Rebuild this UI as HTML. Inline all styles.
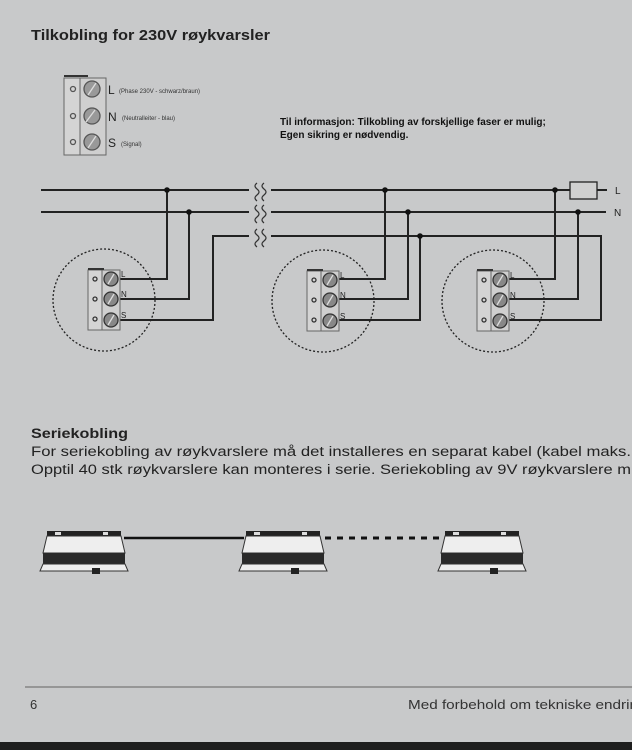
<!DOCTYPE html>
<html><head><meta charset="utf-8"><style>
html,body{margin:0;padding:0;background:#c8c9ca;}
svg{display:block;font-family:"Liberation Sans",sans-serif;}
</style></head><body>
<svg width="632" height="750" viewBox="0 0 632 750" xmlns="http://www.w3.org/2000/svg">
<rect width="632" height="750" fill="#c8c9ca"/>
<text x="31" y="40" font-size="14.5" font-weight="bold" fill="#222" textLength="239" lengthAdjust="spacingAndGlyphs">Tilkobling for 230V røykvarsler</text>

<!-- legend block -->
<g stroke="#666" fill="#d4d4d4">
<rect x="64" y="78" width="42" height="77"/>
<rect x="80" y="78" width="26" height="77" fill="#cfcfcf"/>
<line x1="64" y1="76" x2="88" y2="76" stroke="#333" stroke-width="2"/>
</g>
<g stroke="#555" stroke-width="1.3" fill="#999">
<circle cx="73" cy="89" r="2.5" fill="none"/><circle cx="73" cy="116" r="2.5" fill="none"/><circle cx="73" cy="142" r="2.5" fill="none"/>
<circle cx="92" cy="89" r="8"/><circle cx="92" cy="116" r="8"/><circle cx="92" cy="142" r="8"/>
<path d="M88 95 L96 83 M86 122 L95 110 M88 148 L96 136" stroke="#ddd"/>
</g>
<text x="108" y="94" font-size="12" fill="#222">L</text><text x="119" y="93" font-size="6" fill="#333">(Phase 230V - schwarz/braun)</text>
<text x="108" y="121" font-size="12" fill="#222">N</text><text x="122" y="120" font-size="6" fill="#333">(Neutralleiter - blau)</text>
<text x="108" y="147" font-size="12" fill="#222">S</text><text x="121" y="146" font-size="6" fill="#333">(Signal)</text>

<text x="280" y="125" font-size="10" font-weight="bold" fill="#111">Til informasjon: Tilkobling av forskjellige faser er mulig;</text>
<text x="280" y="138" font-size="10" font-weight="bold" fill="#111">Egen sikring er nødvendig.</text>

<!-- bus lines -->
<g stroke="#222" stroke-width="2" fill="none">
<line x1="41" y1="190" x2="249" y2="190"/><line x1="271" y1="190" x2="570" y2="190"/><line x1="597" y1="190" x2="607" y2="190"/>
<line x1="41" y1="212" x2="249" y2="212"/><line x1="271" y1="212" x2="606" y2="212"/>
<polyline points="120,320 213,320 213,236 249,236"/>
<polyline points="271,236 601,236 601,320 508,320"/>
<rect x="570" y="182" width="27" height="17" stroke-width="1.3" fill="#d0d0d0"/>
<!-- node1 -->
<polyline points="120,279 167,279 167,190"/>
<polyline points="120,299 189,299 189,212"/>
<!-- node2 -->
<polyline points="338,279 385,279 385,190"/>
<polyline points="338,299 408,299 408,212"/>
<polyline points="338,320 420,320 420,236"/>
<!-- node3 -->
<polyline points="508,279 555,279 555,190"/>
<polyline points="508,299 578,299 578,212"/>
</g>
<g stroke="#333" stroke-width="1.2" fill="none">
<path d="M257 183 q-4 3 0 6 q4 3 0 6 q-4 3 0 6 M264 183 q-4 3 0 6 q4 3 0 6 q-4 3 0 6"/>
<path d="M257 205 q-4 3 0 6 q4 3 0 6 q-4 3 0 6 M264 205 q-4 3 0 6 q4 3 0 6 q-4 3 0 6"/>
<path d="M257 229 q-4 3 0 6 q4 3 0 6 q-4 3 0 6 M264 229 q-4 3 0 6 q4 3 0 6 q-4 3 0 6"/>
</g>
<g fill="#111">
<circle cx="167" cy="190" r="2.8"/><circle cx="189" cy="212" r="2.8"/>
<circle cx="385" cy="190" r="2.8"/><circle cx="408" cy="212" r="2.8"/><circle cx="420" cy="236" r="2.8"/>
<circle cx="555" cy="190" r="2.8"/><circle cx="578" cy="212" r="2.8"/>
</g>
<text x="615" y="194" font-size="10" fill="#222">L</text>
<text x="614" y="216" font-size="10" fill="#222">N</text>

<!-- terminal blocks -->
<g id="tb">
<circle cx="104" cy="300" r="51" fill="none" stroke="#222" stroke-width="1.3" stroke-dasharray="2,2"/>
<rect x="88" y="270" width="32" height="60" fill="#d4d4d4" stroke="#666"/>
<rect x="102" y="270" width="18" height="60" fill="#cfcfcf" stroke="#666"/>
<line x1="88" y1="269" x2="104" y2="269" stroke="#333" stroke-width="2"/>
<g stroke="#333" stroke-width="1.3" fill="#888">
<circle cx="95" cy="279" r="2" fill="none"/><circle cx="95" cy="299" r="2" fill="none"/><circle cx="95" cy="319" r="2" fill="none"/>
<circle cx="111" cy="279" r="7"/><circle cx="111" cy="299" r="7"/><circle cx="111" cy="320" r="7"/>
<path d="M108 284 L114 274 M108 304 L114 294 M108 325 L114 315" stroke="#ddd"/>
</g>
<text x="121" y="277" font-size="8" fill="#222">L</text>
<text x="121" y="297" font-size="8" fill="#222">N</text>
<text x="121" y="318" font-size="8" fill="#222">S</text>
</g>
<use href="#tb" x="219" y="1"/>
<use href="#tb" x="389" y="1"/>

<text x="31" y="438" font-size="13.5" font-weight="bold" fill="#222" textLength="97" lengthAdjust="spacingAndGlyphs">Seriekobling</text>
<text x="31" y="456" font-size="13.5" fill="#222" textLength="600" lengthAdjust="spacingAndGlyphs">For seriekobling av røykvarslere må det installeres en separat kabel (kabel maks.</text>
<text x="31" y="474" font-size="13.5" fill="#222" textLength="600" lengthAdjust="spacingAndGlyphs">Opptil 40 stk røykvarslere kan monteres i serie. Seriekobling av 9V røykvarslere m</text>

<!-- detectors -->
<line x1="124" y1="538" x2="244" y2="538" stroke="#111" stroke-width="2.5"/>
<line x1="325" y1="538" x2="440" y2="538" stroke="#111" stroke-width="3" stroke-dasharray="6,6"/>
<g id="det">
<rect x="47" y="531" width="74" height="5" fill="#222"/>
<rect x="55" y="532" width="6" height="3" fill="#ddd"/><rect x="103" y="532" width="5" height="3" fill="#ddd"/>
<path d="M47 536 L121 536 L125 553 L43 553 Z" fill="#eee" stroke="#333"/>
<rect x="43" y="553" width="82" height="11" fill="#2a2a2a"/>
<path d="M43 564 L125 564 L128 571 L40 571 Z" fill="#eee" stroke="#333"/>
<rect x="92" y="568" width="8" height="6" fill="#222"/>
</g>
<use href="#det" x="199" y="0"/>
<use href="#det" x="398" y="0"/>

<line x1="25" y1="687" x2="632" y2="687" stroke="#777" stroke-width="1.3"/>
<text x="30" y="709" font-size="13" fill="#333">6</text>
<text x="408" y="709" font-size="13" fill="#333" textLength="230" lengthAdjust="spacingAndGlyphs">Med forbehold om tekniske endrin</text>
<rect x="0" y="742" width="632" height="8" fill="#1e1e1e"/>
</svg>
</body></html>
